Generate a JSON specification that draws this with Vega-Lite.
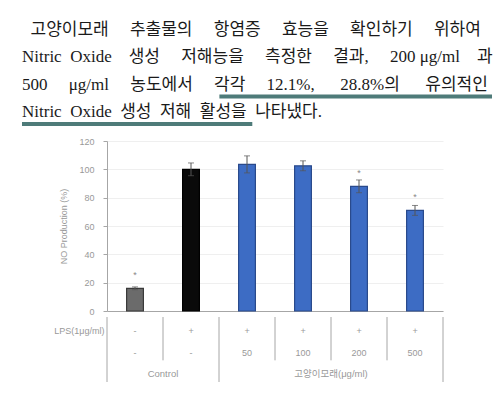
{
  "$schema": "https://vega.github.io/schema/vega-lite/v6.json",
  "background": "white",
  "padding": {"left": 20, "top": 16, "right": 5, "bottom": 5},
  "config": {"view": {"stroke": null}, "font": "Liberation Sans, Noto Sans CJK KR"},
  "datasets": {
    "lines": [
      {"line": "1", "text": "\u200b\u00a0\u00a0고양이모래\u3000\u00a0추출물의\u3000\u00a0항염증\u3000\u00a0효능을\u3000\u00a0확인하기\u3000\u00a0위하여"},
      {"line": "2", "text": "Nitric\u00a0\u00a0Oxide\u3000생성\u3000\u00a0저해능을\u3000\u00a0측정한\u3000\u00a0결과,\u3000\u00a0200\u00a0μg/ml\u3000과"},
      {"line": "3", "text": "500\u3000\u00a0μg/ml\u3000\u00a0농도에서\u3000\u00a0각각\u3000\u00a012.1%,\u3000\u00a0\u00a028.8%의\u3000\u00a0\u00a0유의적인"},
      {"line": "4", "text": "Nitric\u00a0\u00a0Oxide\u00a0\u00a0생성\u00a0\u00a0저해\u00a0\u00a0활성을\u00a0\u00a0나타냈다."}
    ],
    "bars": [
      {"grp": "Control", "value": 16, "err": 1, "sig": "*", "lps": "-", "conc": "-"},
      {"grp": "LPS", "value": 100, "err": 4.5, "sig": "", "lps": "+", "conc": "-"},
      {"grp": "50", "value": 103.5, "err": 6, "sig": "", "lps": "+", "conc": "50"},
      {"grp": "100", "value": 102.5, "err": 3.5, "sig": "", "lps": "+", "conc": "100"},
      {"grp": "200", "value": 88, "err": 4.5, "sig": "*", "lps": "+", "conc": "200"},
      {"grp": "500", "value": 71, "err": 3.5, "sig": "*", "lps": "+", "conc": "500"}
    ],
    "groups": [
      {"label": "Control", "at": "Control"},
      {"label": "고양이모래(μg/ml)", "at": "100"}
    ]
  },
  "spacing": 11,
  "resolve": {"scale": {"x": "independent", "y": "independent"}},
  "vconcat": [
    {
      "width": 300,
      "height": 110,
      "data": {"name": "lines"},
      "layer": [
        {
          "mark": {"type": "text", "align": "left", "baseline": "middle", "font": "Liberation Serif, Noto Sans CJK KR", "fontSize": 17, "color": "#1a1a1a"},
          "encoding": {
            "x": {"datum": 0, "type": "quantitative", "scale": {"domain": [0, 100], "range": [-85, 385]}, "axis": null},
            "y": {"field": "line", "type": "ordinal", "scale": {"type": "band", "domain": ["1", "2", "3", "4"], "paddingInner": 0, "paddingOuter": 0}, "axis": null},
            "text": {"field": "text"}
          }
        },
        {
          "data": {"values": [{"line": "3"}]},
          "mark": {"type": "rule", "color": "#4e7b79", "strokeWidth": 4, "yOffset": -2},
          "encoding": {
            "x": {"datum": 42, "type": "quantitative"},
            "x2": {"datum": 100},
            "y": {"field": "line", "type": "ordinal", "bandPosition": 1}
          }
        },
        {
          "data": {"values": [{"line": "4"}]},
          "mark": {"type": "rule", "color": "#4e7b79", "strokeWidth": 4, "yOffset": -2},
          "encoding": {
            "x": {"datum": 0, "type": "quantitative"},
            "x2": {"datum": 49},
            "y": {"field": "line", "type": "ordinal", "bandPosition": 1}
          }
        }
      ]
    },
    {
      "spacing": 0,
      "resolve": {"scale": {"x": "independent", "y": "independent"}},
      "vconcat": [
        {
          "width": 336,
          "height": 170,
          "data": {"name": "bars"},
          "encoding": {
            "x": {"field": "grp", "type": "nominal", "scale": {"domain": ["Control", "LPS", "50", "100", "200", "500"], "paddingInner": 0.7, "paddingOuter": 0.35},
                  "axis": {"labels": false, "ticks": false, "title": null, "domainColor": "#a6a6a6", "grid": false}},
            "y": {"field": "value", "type": "quantitative", "title": "NO Production (%)", "scale": {"domain": [0, 120]},
                  "axis": {"values": [0, 20, 40, 60, 80, 100, 120], "tickCount": 7, "labelOverlap": false, "labelFontSize": 9, "labelColor": "#999999",
                           "titleFontSize": 9, "titleColor": "#999999", "titleFontWeight": "normal", "tickColor": "#a6a6a6", "tickSize": 4,
                           "domainColor": "#a6a6a6", "labelPadding": 9, "titlePadding": 10, "gridColor": "#efefef"}}
          },
          "layer": [
            {
              "mark": {"type": "bar", "strokeWidth": 1.2},
              "encoding": {
                "color": {"field": "grp", "type": "nominal", "scale": {"domain": ["Control", "LPS", "50", "100", "200", "500"], "range": ["#6b6b6b", "#0a0a0a", "#3d6cc4", "#3d6cc4", "#3d6cc4", "#3d6cc4"]}, "legend": null},
                "stroke": {"field": "grp", "type": "nominal", "scale": {"domain": ["Control", "LPS", "50", "100", "200", "500"], "range": ["#3a3a3a", "#000000", "#2a4a8c", "#2a4a8c", "#2a4a8c", "#2a4a8c"]}, "legend": null}
              }
            },
            {
              "mark": {"type": "errorbar", "ticks": {"size": 6}, "color": "#555555"},
              "encoding": {
                "yError": {"field": "err"}
              }
            },
            {
              "mark": {"type": "text", "dy": -13, "fontSize": 9, "color": "#888888"},
              "encoding": {
                "text": {"field": "sig"}
              }
            }
          ]
        },
        {
          "width": 336,
          "height": 65,
          "layer": [
            {
              "data": {"name": "bars"},
              "mark": {"type": "text", "fontSize": 9, "color": "#999999", "dy": 3},
              "encoding": {
                "x": {"field": "grp", "type": "nominal", "scale": {"type": "band", "domain": ["Control", "LPS", "50", "100", "200", "500"], "paddingInner": 0, "paddingOuter": 0}, "axis": null},
                "y": {"datum": "LPS(1μg/ml)", "type": "nominal", "scale": {"type": "band", "domain": ["LPS(1μg/ml)", "sample", "group"], "paddingInner": 0, "paddingOuter": 0},
                      "axis": {"title": null, "domain": false, "ticks": false, "labelExpr": "datum.value == 'LPS(1μg/ml)' ? datum.value : ''", "labelFontSize": 9, "labelColor": "#999999", "labelPadding": 3, "labelOffset": 3}},
                "text": {"field": "lps"}
              }
            },
            {
              "data": {"name": "bars"},
              "mark": {"type": "text", "fontSize": 9, "color": "#999999", "dy": 3},
              "encoding": {
                "x": {"field": "grp", "type": "nominal"},
                "y": {"datum": "sample", "type": "nominal"},
                "text": {"field": "conc"}
              }
            },
            {
              "data": {"name": "groups"},
              "mark": {"type": "text", "fontSize": 9.5, "color": "#999999", "dy": 3},
              "encoding": {
                "x": {"field": "at", "type": "nominal", "bandPosition": 1},
                "y": {"datum": "group", "type": "nominal"},
                "text": {"field": "label"}
              }
            },
            {
              "data": {"name": "bars"},
              "transform": [{"filter": "datum.grp == 'Control' || datum.grp == '50'"}],
              "mark": {"type": "rule", "color": "#a6a6a6"},
              "encoding": {"x": {"field": "grp", "type": "nominal", "bandPosition": 0}}
            },
            {
              "data": {"name": "bars"},
              "transform": [{"filter": "datum.grp == '500'"}],
              "mark": {"type": "rule", "color": "#a6a6a6"},
              "encoding": {"x": {"field": "grp", "type": "nominal", "bandPosition": 1}}
            },
            {
              "data": {"name": "bars"},
              "transform": [{"filter": "datum.grp == 'LPS' || datum.grp == '100' || datum.grp == '200' || datum.grp == '500'"}],
              "mark": {"type": "rule", "color": "#a6a6a6"},
              "encoding": {
                "x": {"field": "grp", "type": "nominal", "bandPosition": 0},
                "y": {"datum": "LPS(1μg/ml)", "type": "nominal", "bandPosition": 0},
                "y2": {"datum": "sample", "bandPosition": 1}
              }
            }
          ]
        }
      ]
    }
  ]
}
